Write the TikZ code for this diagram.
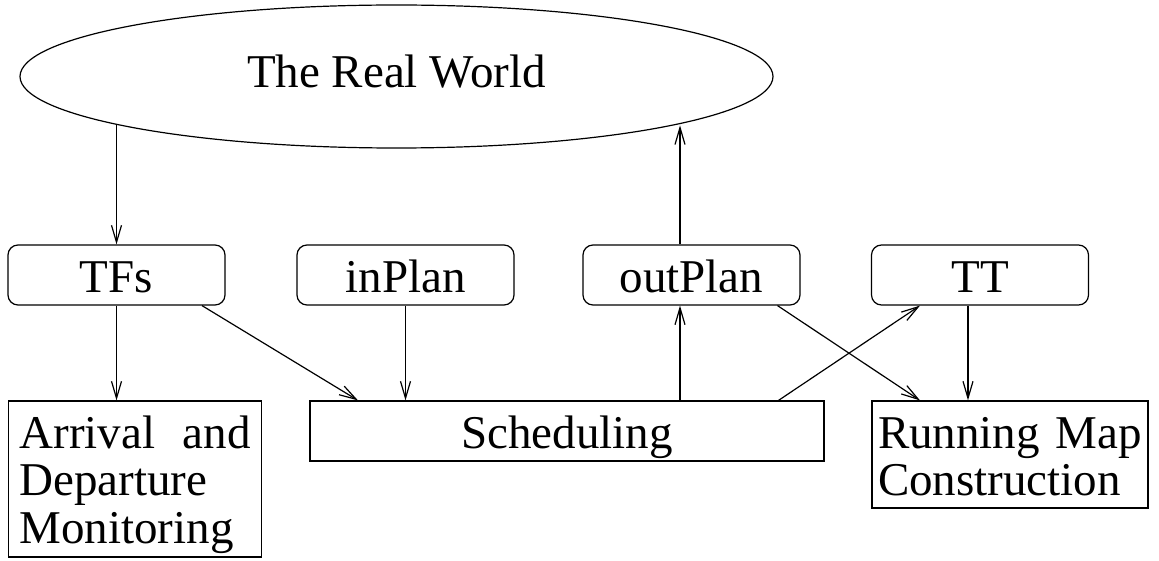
\documentclass[tikz,border=0pt]{standalone}
\usepackage{fontspec}
\setmainfont{Liberation Serif}
\usetikzlibrary{shapes.geometric,arrows.meta}

\begin{document}
\begin{tikzpicture}[x=1pt,y=-1pt,line width=1.2pt,
	font=\fontsize{47}{47.5}\selectfont,
	>={Straight Barb[length=17pt,width=10pt]},
	world/.style={draw,ellipse,minimum width=753pt,minimum height=143pt,
		inner sep=0pt,text height=23pt,text depth=0pt},
	data/.style={draw,rounded corners=10pt,minimum width=217pt,
		minimum height=60pt,inner sep=0pt,text height=36pt,text depth=0pt},
	task/.style={draw,inner ysep=0pt,align=left,text height=47pt}]
\useasboundingbox (0,0) rectangle (1159,561);

% the outside world
\node[world] (world) at (396.5,76.5) {The Real World};

% data stores
\node[data] (tfs) at (116.5,275) {TFs};
\node[data] (inplan) at (405.5,275) {inPlan};
\node[data] (outplan) at (691.5,275) {outPlan};
\node[data] (tt) at (980,275) {TT};

% tasks
\node[task,text width=231pt,inner xsep=11pt,text depth=109pt]
	(monitor) at (135,479) {Arrival\hfill and\\Departure\\Monitoring};
\node[task,minimum width=514pt,minimum height=60pt,text height=34pt,text depth=0pt]
	(sched) at (567,431) {Scheduling};
\node[task,text width=264pt,inner xsep=6pt,text depth=60pt]
	(running) at (1010,454.5) {Running~Map\\Construction};

% flows in from the world
\draw[->] (world.190 -| tfs.north) -- (tfs.north);
\draw[->] (tfs.south) -- (tfs.south |- monitor.north);
\draw[->] ([xshift=85.5pt]tfs.south) -- ([xshift=-209pt]sched.north);
\draw[->] (inplan.south) -- (inplan.south |- sched.north);

% flows out of scheduling
\draw[->] ([xshift=-11.5pt]outplan.south |- sched.north) -- ([xshift=-11.5pt]outplan.south);
\draw[->] ([xshift=-11.5pt]outplan.north) -- ([xshift=-11.5pt]outplan.north |- world.-10);
\draw[->] ([xshift=211.5pt]sched.north) -- ([xshift=-60pt]tt.south);

% running map inputs
\draw[->] ([xshift=86pt]outplan.south) -- ([xshift=-90pt]running.north);
\draw[->] ([xshift=-12pt]tt.south) -- ([xshift=-12pt]tt.south |- running.north);
\end{tikzpicture}
\end{document}
